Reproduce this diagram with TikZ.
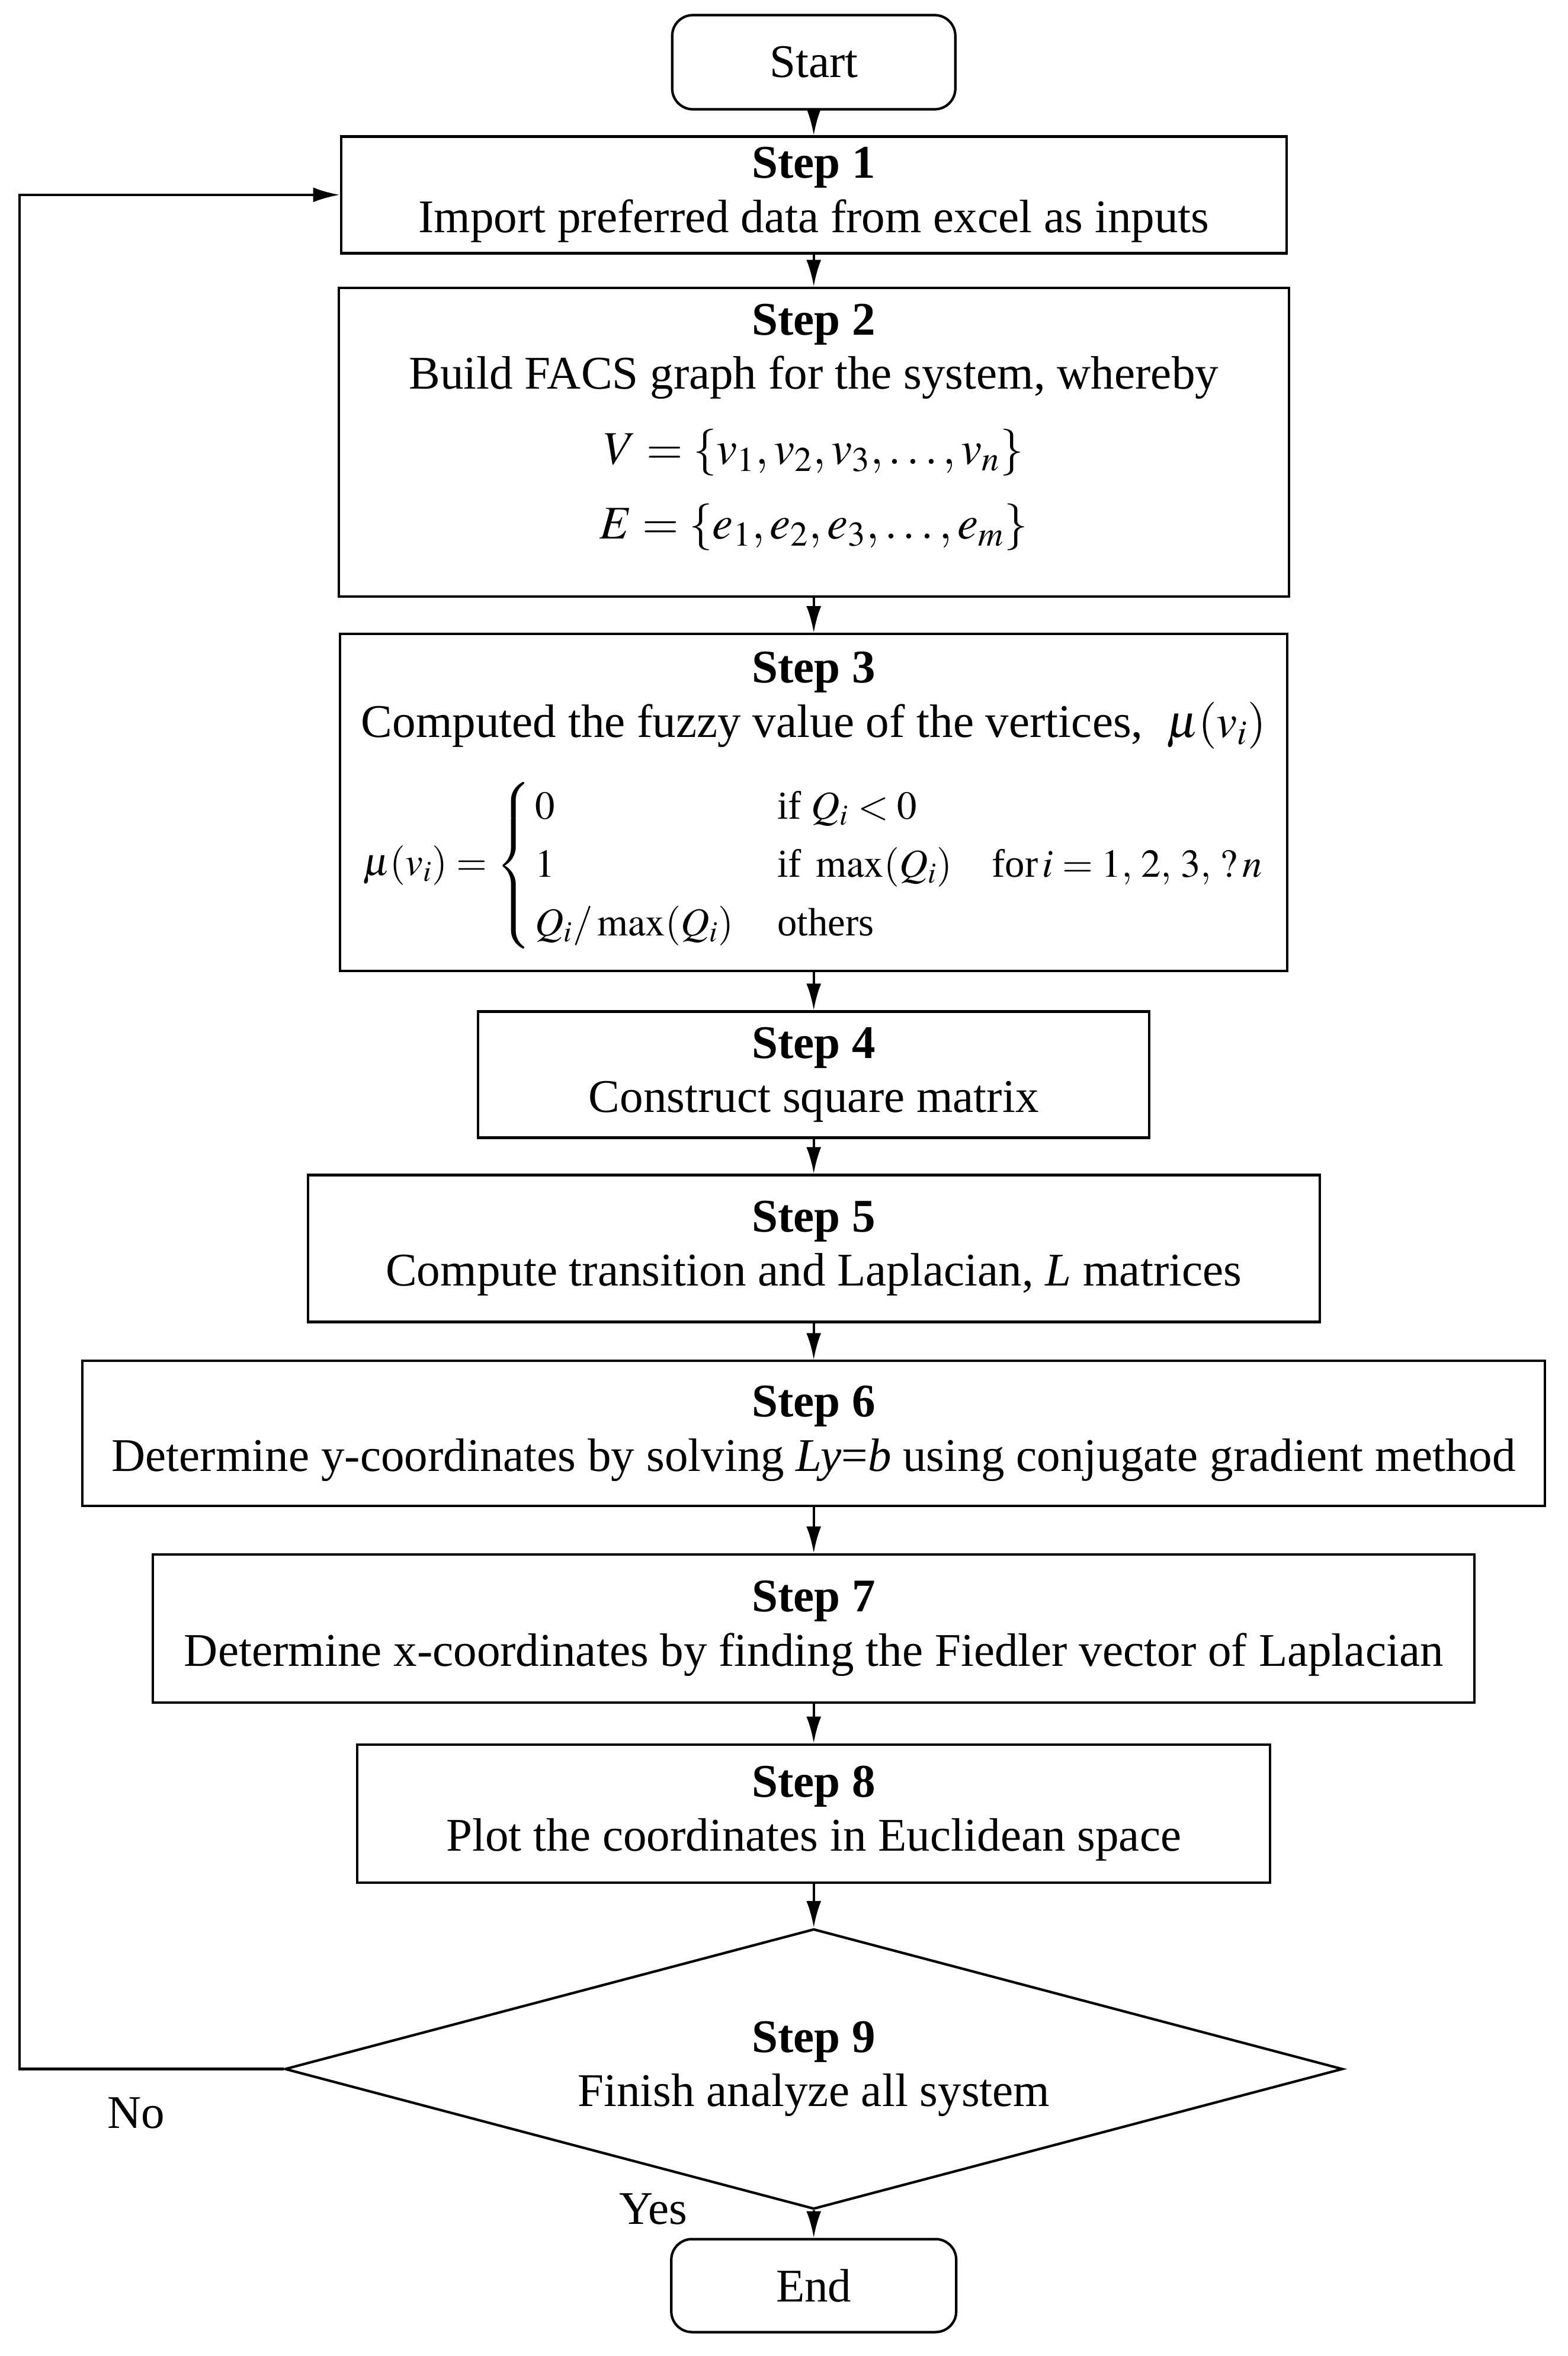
\documentclass[tikz,border=0pt]{standalone}
\usepackage{amsmath}
\usepackage{mathptmx}
\usepackage{fontspec}
\setmainfont{Liberation Serif}
\usetikzlibrary{shapes.geometric,arrows.meta}

\begin{document}
\begin{tikzpicture}[x=0.0253cm, y=-0.0253cm, font=\fontsize{22.5}{26}\selectfont,
    every node/.style={align=center, inner sep=0pt},
    stepbox/.style={draw, line width=1.2pt},
    endbox/.style={stepbox, rounded corners=3.5mm},
    flow/.style={line width=1.2pt, -{Latex[length=4.5mm,width=2.5mm]}}]
    \useasboundingbox (0,0) rectangle (1046,1572);

    % Start and the first steps
    \node[endbox, minimum width=4.78cm, minimum height=1.59cm] (start) at (543,41.5) {Start};
    \node[stepbox, minimum width=15.96cm, minimum height=1.97cm] (s1) at (543,130)
        {\textbf{Step 1}\\Import preferred data from excel as inputs};
    \node[stepbox, minimum width=16.04cm, minimum height=5.21cm] (s2) at (543,295)
        {\textbf{Step 2}\\Build FACS graph for the system, whereby\\[10pt]
         $V=\{v_1,v_2,v_3,\ldots,v_n\}$\\[10pt]
         $E=\{e_1,e_2,e_3,\ldots,e_m\}$\\[-6pt]\mbox{}};
    \node[stepbox, minimum width=15.99cm, minimum height=5.69cm] (s3) at (543,535.5)
        {\textbf{Step 3}\\Computed the fuzzy value of the vertices,\ \ $\mu(v_i)$\\[13pt]
         {\fontsize{19}{23}\selectfont\renewcommand{\arraystretch}{1.22}%
         $\mu(v_i)=\left\{\begin{array}{@{\,}l@{\hspace{1.1em}}l@{}}
            0 & \text{if }Q_i<0\\
            1 & \text{if }\max(Q_i)\quad\text{for}\,i=1,\,2,\,3,\,?\,n\\
            Q_i/\max(Q_i) & \text{others}
         \end{array}\right.$}};

    % Matrix steps
    \node[stepbox, minimum width=11.33cm, minimum height=2.13cm] (s4) at (543,717)
        {\textbf{Step 4}\\Construct square matrix};
    \node[stepbox, minimum width=17.08cm, minimum height=2.48cm] (s5) at (543,833)
        {\textbf{Step 5}\\Compute transition and Laplacian, \textit{L} matrices};
    \node[stepbox, minimum width=24.69cm, minimum height=2.45cm] (s6) at (543,956.5)
        {\textbf{Step 6}\\Determine y-coordinates by solving \textit{Ly}=\textit{b} using conjugate gradient method};
    \node[stepbox, minimum width=22.31cm, minimum height=2.50cm] (s7) at (543,1086.5)
        {\textbf{Step 7}\\Determine x-coordinates by finding the Fiedler vector of Laplacian};
    \node[stepbox, minimum width=15.41cm, minimum height=2.33cm] (s8) at (543,1210)
        {\textbf{Step 8}\\Plot the coordinates in Euclidean space};

    % Decision and end
    \node[stepbox, diamond, aspect=3.8, minimum width=17.86cm, minimum height=4.73cm] (s9) at (543,1380.5)
        {\textbf{Step 9}\\Finish analyze all system};
    \node[endbox, minimum width=4.81cm, minimum height=1.57cm] (end) at (543,1525) {End};
    \node (no) at (91,1410) {No};
    \node (yes) at (436,1474) {Yes};

    \draw[flow] (start) -- (s1);
    \draw[flow] (s1) -- (s2);
    \draw[flow] (s2) -- (s3);
    \draw[flow] (s3) -- (s4);
    \draw[flow] (s4) -- (s5);
    \draw[flow] (s5) -- (s6);
    \draw[flow] (s6) -- (s7);
    \draw[flow] (s7) -- (s8);
    \draw[flow] (s8) -- (s9);
    \draw[flow] (s9) -- (end);

    % back to step 1
    \coordinate (back) at (13,1380.5);
    \draw[flow] (s9.west) -- (back) |- (s1.west);
\end{tikzpicture}
\end{document}
